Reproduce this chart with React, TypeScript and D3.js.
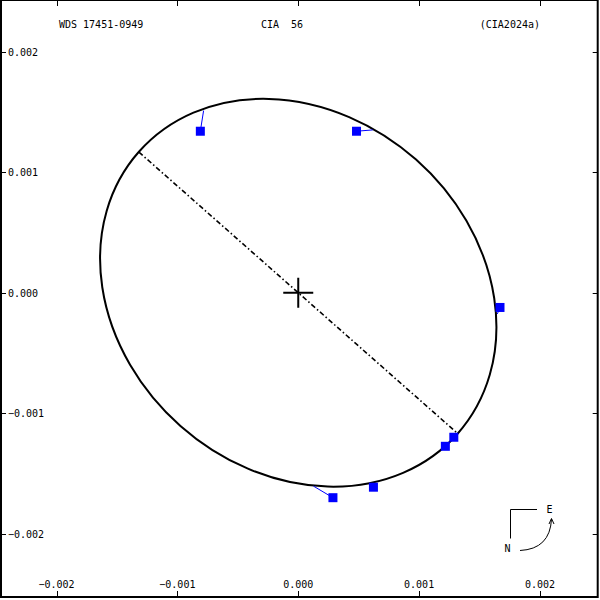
import { useRef, useEffect } from 'react'
import * as d3 from 'd3'

const W = 600
const H = 600
const FRAME = { left: 1, top: 0, right: 597.7, bottom: 597 }
const FONT = '"DejaVu Sans Mono", "Liberation Mono", monospace'

// axis ticks (arcsec)
const X_TICKS = [-0.002, -0.001, 0, 0.001, 0.002]
const Y_TICKS = [-0.002, -0.001, 0, 0.001, 0.002]

// titles
const TITLE_LEFT = 'WDS 17451-0949'
const TITLE_MID = 'CIA  56'
const TITLE_RIGHT = '(CIA2024a)'

// apparent orbit: centre, semi-axes, tilt of major axis (deg, screen)
const ORBIT_CENTER = [0, 0]
const ORBIT_AXES = [0.00176, 0.001474]
const ORBIT_TILT = 41.5

// line of nodes
const NODE_X = [-0.001318, 0.001318]
const NODE_Y = [0.001166, -0.001166]

// measures (blue squares) and their predicted positions on the orbit
const OBS_X = [-0.00081, 0.000482, 0.001669, 0.001287, 0.001217, 0.000622, 0.000287]
const OBS_Y = [0.001339, 0.001339, -0.000122, -0.001198, -0.001273, -0.001612, -0.001699]
const PRED_X = [-0.000783, 0.000617, 0.001647, 0.001298, 0.001227, 0.000612, 0.000126]
const PRED_Y = [0.00151, 0.00135, -0.000176, -0.001176, -0.001255, -0.001589, -0.001603]

export default function App() {
  const svgRef = useRef<SVGSVGElement>(null)

  useEffect(() => {
    if (!svgRef.current) return
    const el = d3.select(svgRef.current)
    el.selectAll('*').remove()
    el.attr('width', W).attr('height', H)

    const x = d3.scaleLinear().domain([-0.002, 0.002]).range([56.5, 540])
    const y = d3.scaleLinear().domain([-0.002, 0.002]).range([534, 51.5])
    const fmt = d3.format('.3f')

    el.append('rect').attr('width', W).attr('height', H).attr('fill', '#fff')

    // Ticks on all four sides
    const tk = el.append('g').attr('stroke', '#000').attr('stroke-width', 1)
    X_TICKS.forEach((t) => {
      const px = Math.round(x(t)) + 0.5
      tk.append('line').attr('x1', px).attr('x2', px).attr('y1', FRAME.top).attr('y2', FRAME.top + 6)
      tk.append('line').attr('x1', px).attr('x2', px).attr('y1', FRAME.bottom).attr('y2', FRAME.bottom - 6)
    })
    Y_TICKS.forEach((t) => {
      const py = Math.round(y(t)) + 0.5
      tk.append('line').attr('y1', py).attr('y2', py).attr('x1', FRAME.left).attr('x2', FRAME.left + 5)
      tk.append('line').attr('y1', py).attr('y2', py).attr('x1', FRAME.right).attr('x2', FRAME.right - 5)
    })

    // Frame
    el.append('rect')
      .attr('x', FRAME.left).attr('y', FRAME.top)
      .attr('width', FRAME.right - FRAME.left).attr('height', FRAME.bottom - FRAME.top)
      .attr('fill', 'none').attr('stroke', '#000').attr('stroke-width', 2)

    // Tick labels
    const lab = el.append('g').attr('font-family', FONT).attr('font-size', '10px').attr('fill', '#000')
    X_TICKS.forEach((t) => {
      lab.append('text').attr('x', x(t)).attr('y', 588).attr('text-anchor', 'middle').text(fmt(t))
    })
    Y_TICKS.forEach((t) => {
      lab.append('text').attr('x', 8).attr('y', y(t) + 4).text(fmt(t))
    })

    // Titles (keep the double space in the middle one)
    const ttl = el.append('g').attr('font-family', FONT).attr('font-size', '10px').attr('fill', '#000')
    ttl.append('text').attr('x', 59).attr('y', 28).text(TITLE_LEFT)
    ttl.append('text').attr('x', 261).attr('y', 28).attr('xml:space', 'preserve')
      .style('white-space', 'pre').text(TITLE_MID)
    ttl.append('text').attr('x', 540).attr('y', 28).attr('text-anchor', 'end').text(TITLE_RIGHT)

    // Line of nodes
    el.append('line')
      .attr('x1', x(NODE_X[0])).attr('y1', y(NODE_Y[0]))
      .attr('x2', x(NODE_X[1])).attr('y2', y(NODE_Y[1]))
      .attr('stroke', '#000').attr('stroke-width', 1.6)
      .attr('stroke-dasharray', '5,2.5,1.5,2.5')

    // Orbit ellipse
    const cx = x(ORBIT_CENTER[0])
    const cy = y(ORBIT_CENTER[1])
    el.append('ellipse')
      .attr('cx', cx).attr('cy', cy)
      .attr('rx', x(ORBIT_CENTER[0] + ORBIT_AXES[0]) - cx)
      .attr('ry', cy - y(ORBIT_CENTER[1] + ORBIT_AXES[1]))
      .attr('transform', `rotate(${ORBIT_TILT},${cx},${cy})`)
      .attr('fill', 'none').attr('stroke', '#000').attr('stroke-width', 2)

    // Primary star cross
    const px0 = x(0)
    const py0 = y(0)
    el.append('path')
      .attr('d', `M${px0 - 15},${py0}H${px0 + 15}M${px0},${py0 - 15}V${py0 + 15}`)
      .attr('stroke', '#000').attr('stroke-width', 2)

    // O-C lines
    el.append('g').selectAll('line')
      .data(OBS_X.map((_, i) => i))
      .join('line')
      .attr('x1', (i) => x(OBS_X[i])).attr('y1', (i) => y(OBS_Y[i]))
      .attr('x2', (i) => x(PRED_X[i])).attr('y2', (i) => y(PRED_Y[i]))
      .attr('stroke', '#0000ff').attr('stroke-width', 1)

    // Measures
    const S = 9
    el.append('g').selectAll('rect')
      .data(OBS_X.map((_, i) => i))
      .join('rect')
      .attr('x', (i) => x(OBS_X[i]) - S / 2).attr('y', (i) => y(OBS_Y[i]) - S / 2)
      .attr('width', S).attr('height', S)
      .attr('fill', '#0000ff')

    // Compass
    const cp = el.append('g').attr('fill', 'none').attr('stroke', '#000').attr('stroke-width', 1)
    cp.append('path').attr('d', 'M537,509.5H510.5V538.5')
    cp.append('path').attr('d', 'M520,550.5Q550,549 551.5,519')
    cp.append('path').attr('d', 'M549,524L551.5,518.5L554,524')
    const ct = el.append('g').attr('font-family', FONT).attr('font-size', '10px').attr('fill', '#000')
    ct.append('text').attr('x', 549.5).attr('y', 513).attr('text-anchor', 'middle').text('E')
    ct.append('text').attr('x', 507.5).attr('y', 552).attr('text-anchor', 'middle').text('N')
  }, [])

  return (
    <div style={{ position: 'absolute', left: 0, top: 0 }}>
      <svg ref={svgRef} style={{ display: 'block' }} />
    </div>
  )
}
